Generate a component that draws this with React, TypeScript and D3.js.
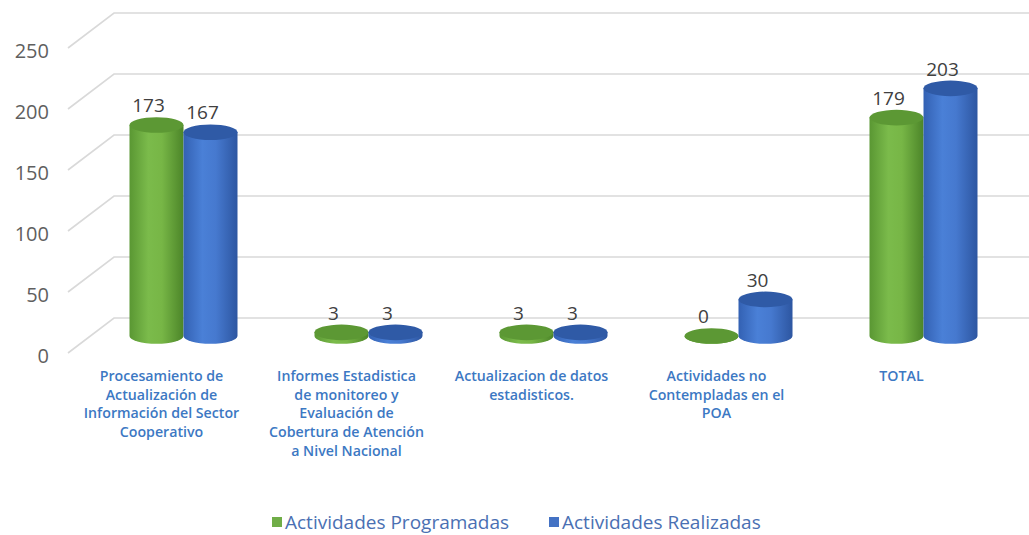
import React from "react";
import * as d3 from "d3";

const categories: string[] = [
  "Procesamiento de\nActualización de\nInformación del Sector\nCooperativo",
  "Informes Estadistica\nde monitoreo y\nEvaluación de\nCobertura de Atención\na Nivel Nacional",
  "Actualizacion de datos\nestadisticos.",
  "Actividades no\nContempladas en el\nPOA",
  "TOTAL",
];
const programadas: number[] = [173, 3, 3, 0, 179];
const realizadas: number[] = [167, 3, 3, 30, 203];
const seriesNames: string[] = ["Actividades Programadas", "Actividades Realizadas"];
const yTicks: number[] = [0, 50, 100, 150, 200, 250];

const W = 1029;
const H = 535;
const FONT = "'Open Sans', 'Noto Sans', sans-serif";

const palette = [
  { id: "g", stops: ["#5a9733", "#7bbb4b", "#77b646", "#4c8529"], top: "#5c9834", key: "#70ad47" },
  { id: "b", stops: ["#3361b3", "#4a80d7", "#4679cf", "#2d56a1"], top: "#2f5aa6", key: "#4472c4" },
];

export default function App() {
  const yBack = d3.scaleLinear().domain([0, 250]).range([318, 13]);
  const depthDx = 46;
  const depthDy = 35;
  const yBar = d3.scaleLinear().domain([0, 250]).range([336, 336 - 305]);

  const x0 = d3.scaleBand<string>().domain(categories).range([91, 1016]).padding(0);
  const groupW = 108;
  const x1 = d3.scaleBand<string>().domain(seriesNames).range([0, groupW]).padding(0);
  const rx = x1.bandwidth() / 2;
  const ry = 7.8;

  const series = [programadas, realizadas];

  const cylinder = (cx: number, v: number, si: number, key: string) => {
    const yt = yBar(v);
    const yb = yBar(0);
    const p = palette[si];
    const body = `M${cx - rx},${yt} L${cx - rx},${yb} A${rx},${ry} 0 0 0 ${cx + rx},${yb} L${cx + rx},${yt} Z`;
    return (
      <g key={key}>
        <path d={body} fill={`url(#grad-${p.id})`} />
        <ellipse cx={cx} cy={yt} rx={rx} ry={ry} fill={p.top} />
      </g>
    );
  };

  return (
    <svg
      width={W}
      height={H}
      style={{ position: "absolute", left: 0, top: 0, background: "#fff" }}
      fontFamily={FONT}
    >
      <defs>
        {palette.map((p) => (
          <linearGradient key={p.id} id={`grad-${p.id}`} x1="0" x2="1" y1="0" y2="0">
            <stop offset="0%" stopColor={p.stops[0]} />
            <stop offset="35%" stopColor={p.stops[1]} />
            <stop offset="60%" stopColor={p.stops[2]} />
            <stop offset="100%" stopColor={p.stops[3]} />
          </linearGradient>
        ))}
      </defs>

      {/* gridlines */}
      {yTicks.map((t) => (
        <g key={`grid-${t}`}>
          <path
            d={`M${68},${yBack(t) + depthDy} L${68 + depthDx},${yBack(t)} L${W},${yBack(t)}`}
            fill="none"
            stroke="#d9d9d9"
            strokeWidth={1.6}
          />
          <text
            x={49}
            y={yBack(t) + 45}
            textAnchor="end"
            fontSize={20}
            fill="#5f5f5f"
          >
            {t}
          </text>
        </g>
      ))}

      {/* bars */}
      {categories.map((c, ci) => {
        const gc = (x0(c) as number) + x0.bandwidth() / 2;
        const left = gc - groupW / 2;
        return (
          <g key={`grp-${ci}`}>
            {series.map((s, si) => {
              const cx = left + (x1(seriesNames[si]) as number) + rx;
              return cylinder(cx, s[ci], si, `cyl-${ci}-${si}`);
            })}
            {series.map((s, si) => {
              const cx = left + (x1(seriesNames[si]) as number) + rx;
              return (
                <text
                  key={`lbl-${ci}-${si}`}
                  x={cx - 8}
                  y={yBar(s[ci]) - ry - 5}
                  textAnchor="middle"
                  fontSize={19}
                  fill="#404040"
                >
                  {s[ci]}
                </text>
              );
            })}
            <text
              x={gc - 22}
              y={381}
              textAnchor="middle"
              fontSize={14.2}
              fontWeight={600}
              fill="#3c78c3"
            >
              {c.split("\n").map((line, li) => (
                <tspan key={li} x={gc - 22} dy={li === 0 ? 0 : 18.7}>
                  {line}
                </tspan>
              ))}
            </text>
          </g>
        );
      })}

      {/* legend */}
      {seriesNames.map((n, i) => {
        const lx = [272, 549][i];
        return (
          <g key={`leg-${i}`}>
            <rect x={lx} y={517} width={10} height={10} fill={palette[i].key} />
            <text x={lx + 13} y={529} fontSize={19} fill="#4a70b3">
              {n}
            </text>
          </g>
        );
      })}
    </svg>
  );
}
